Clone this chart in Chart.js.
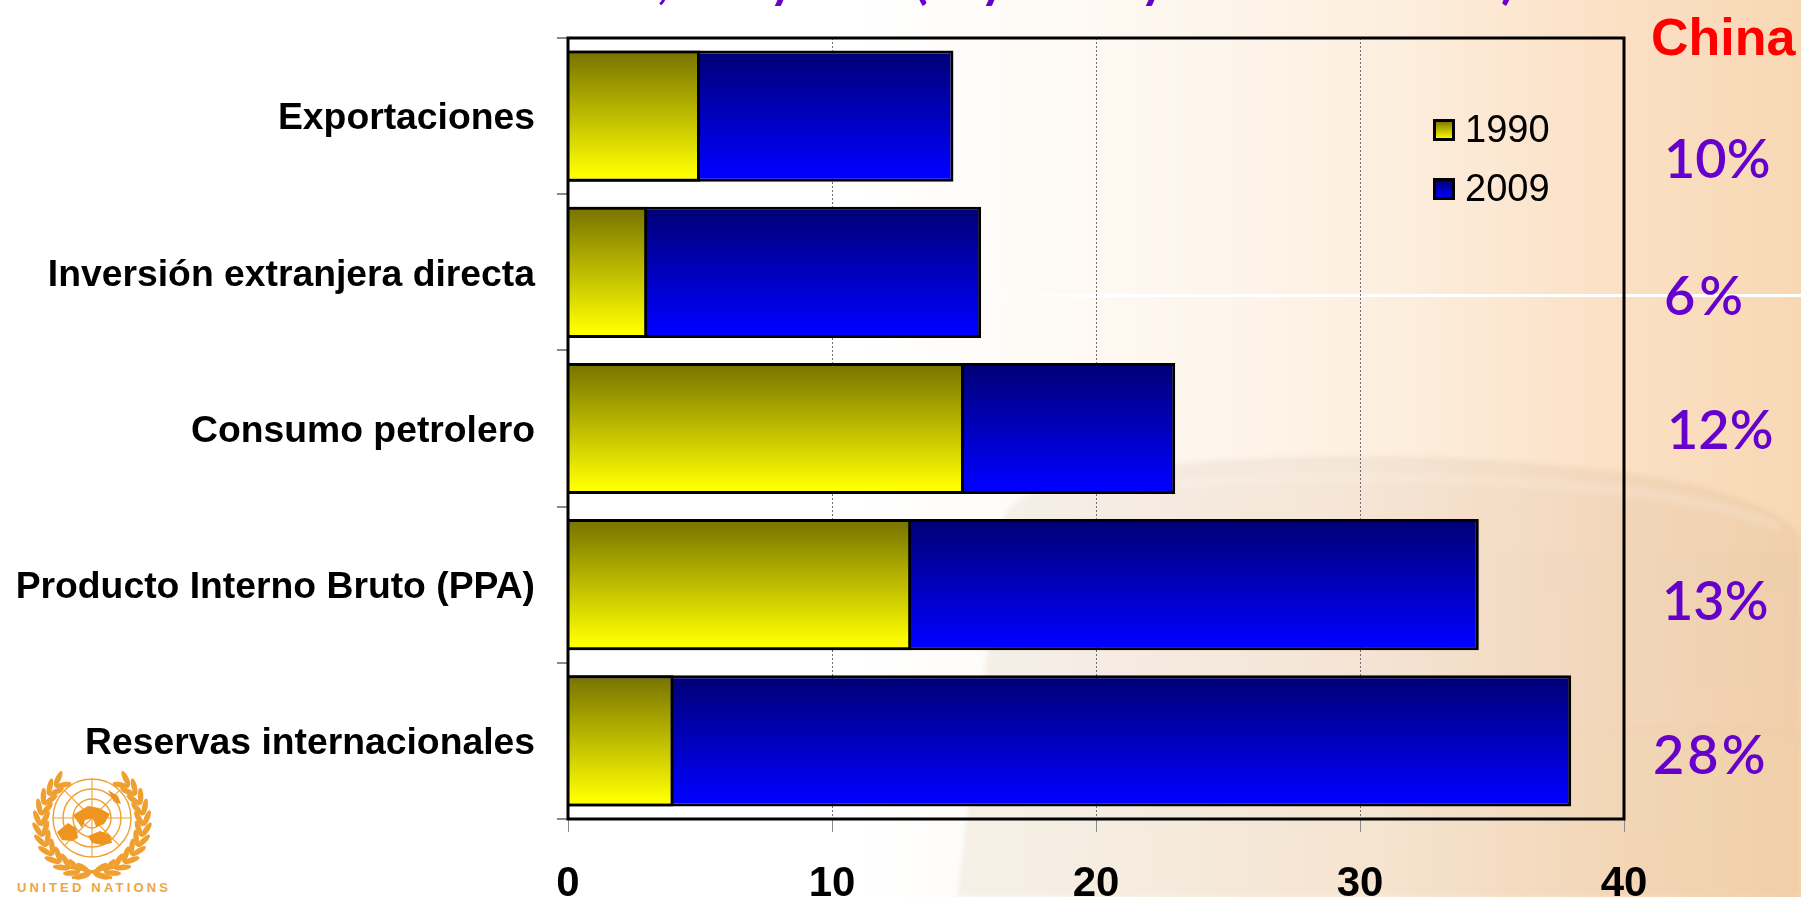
<!DOCTYPE html>
<html lang="es">
<head>
<meta charset="utf-8">
<title>China</title>
<script src="https://cdn.jsdelivr.net/npm/chart.js@4"></script>
<style>
    html, body { margin: 0; padding: 0; }
    body {
        position: relative;
        width: 1801px;
        height: 897px;
        overflow: hidden;
        background: linear-gradient(90deg, #ffffff 0, #ffffff 860px, #fef9f3 1100px, #fdefe0 1380px, #fbe0c4 1620px, #f8d8b4 1801px);
        font-family: "Liberation Sans", Arial, sans-serif;
    }
    #backdrop, #logo { position: absolute; left: 0; top: 0; }
    #chart { position: absolute; left: 0; top: 0; }
    .china {
        position: absolute;
        left: 1651px;
        top: 7px;
        font: bold 52px/60px "Liberation Sans", Arial, sans-serif;
        color: #ff0000;
    }
    .share {
        position: absolute;
        font: 600 54px/60px Lato, sans-serif;
        color: #6600cc;
        transform: translateY(-50%);
    }
    /* solo se ven los rabos de las letras del titulo, cortado por arriba */
    .tail {
        position: absolute;
        top: -51px;
        font: bold 50px/60px Lato, sans-serif;
        color: #6600cc;
    }
</style>
</head>
<body>
<svg id="backdrop" width="1801" height="897">
    <defs>
        <linearGradient id="domeFill" x1="0" y1="0" x2="0" y2="1">
            <stop offset="0" stop-color="#9a7a50" stop-opacity="0.09"/>
            <stop offset="1" stop-color="#a87a40" stop-opacity="0.10"/>
        </linearGradient>
        <linearGradient id="lineFade" x1="0" y1="0" x2="1" y2="0">
            <stop offset="0" stop-color="#ffffff" stop-opacity="0"/>
            <stop offset="0.15" stop-color="#ffffff"/>
            <stop offset="1" stop-color="#ffffff"/>
        </linearGradient>
        <filter id="soft"><feGaussianBlur stdDeviation="2"/></filter>
    </defs>
    <path d="M957,897 L1003,520 Q1010,490 1100,472 Q1360,440 1620,472 Q1760,490 1801,535 L1801,897 Z"
          fill="url(#domeFill)" filter="url(#soft)"/>
    <path d="M1180,484 Q1360,468 1600,488 Q1720,500 1780,528" fill="none" stroke="#ffffff"
          stroke-opacity="0.13" stroke-width="11" filter="url(#soft)"/>
    <rect x="960" y="294" width="841" height="3" fill="url(#lineFade)"/>
</svg>
<svg id="logo" width="200" height="897"></svg>
<canvas id="chart" width="1801" height="897"></canvas>
<div class="china">China</div>
<script>
    // Datos
    const categories = [
        'Exportaciones',
        'Inversión extranjera directa',
        'Consumo petrolero',
        'Producto Interno Bruto (PPA)',
        'Reservas internacionales'
    ];
    const seriesNames = ['1990', '2009'];
    const values1990 = [5, 3, 15, 13, 4];
    const values2009 = [14.6, 15.65, 23, 34.5, 38];
    const chinaShares = ['10%', '6%', '12%', '13%', '28%'];
    const xTicks = [0, 10, 20, 30, 40];

    // Colocacion de los textos de la derecha
    const shareLeft = [1664, 1664, 1667, 1662, 1653];
    const shareMiddle = [158, 295, 429, 600, 754];
    const shareSpacing = [0, 4, 0, 0, 3];

    // Fragmentos visibles del titulo cortado
    const titleTails = [',', 'y', '(', 'y', 'y', ')'];
    const titleTailLeft = [657, 769, 914, 980, 1140, 1501];

    const barShare = 0.84;

    const topGradient = {
        '1990': ['#7a7600', '#ffff00'],
        '2009': ['#000078', '#0000ff']
    };

    const barFill = (name) => (ctx) => {
        const chart = ctx.chart;
        const y = chart.scales.y;
        if (ctx.type !== 'data' || !chart.chartArea || !y) return topGradient[name][1];
        const center = y.getPixelForValue(ctx.dataIndex);
        const half = (chart.chartArea.height / categories.length) * barShare / 2;
        const g = chart.ctx.createLinearGradient(0, center - half, 0, center + half);
        g.addColorStop(0.03, topGradient[name][0]);
        g.addColorStop(0.95, topGradient[name][1]);
        return g;
    };

    // Cuadrito de la leyenda con el mismo degradado
    const legendSwatch = (name) => {
        const c = document.createElement('canvas');
        c.width = 22;
        c.height = 26; // 4 de aire abajo para subirlo respecto al texto
        const x = c.getContext('2d');
        const g = x.createLinearGradient(0, 2, 0, 20);
        g.addColorStop(0, topGradient[name][0]);
        g.addColorStop(1, topGradient[name][1]);
        x.fillStyle = g;
        x.fillRect(0, 0, 22, 22);
        x.strokeStyle = '#000000';
        x.lineWidth = 3;
        x.strokeRect(1.5, 1.5, 19, 19);
        return c;
    };

    const frame = {
        id: 'frame',
        beforeDraw(chart) {
            // leyenda dentro del area, en su sitio
            chart.legend.left = 1421;
            chart.legend.top = 92;
        },
        afterDatasetsDraw(chart) {
            const a = chart.chartArea;
            const c = chart.ctx;
            c.save();
            c.strokeStyle = '#000000';
            c.lineWidth = 3;
            c.strokeRect(a.left, a.top, a.width, a.height);
            c.restore();
        }
    };

    new Chart(document.getElementById('chart'), {
        type: 'bar',
        data: {
            labels: categories,
            datasets: [
                {
                    label: seriesNames[0],
                    data: values1990,
                    backgroundColor: barFill('1990'),
                    borderColor: '#000000',
                    borderWidth: 3,
                    barPercentage: barShare,
                    categoryPercentage: 1
                },
                {
                    label: seriesNames[1],
                    data: values2009,
                    backgroundColor: barFill('2009'),
                    borderColor: '#000000',
                    borderWidth: 3,
                    barPercentage: barShare,
                    categoryPercentage: 1
                }
            ]
        },
        options: {
            indexAxis: 'y',
            responsive: false,
            animation: false,
            layout: { padding: { top: 38, right: 177, left: 0, bottom: 0 } },
            scales: {
                x: {
                    type: 'linear',
                    min: xTicks[0],
                    max: xTicks[xTicks.length - 1],
                    stacked: false,
                    afterBuildTicks: (scale) => {
                        scale.ticks = xTicks.map(v => ({ value: v }));
                    },
                    afterFit: (scale) => {
                        scale.height = 78;
                        scale.paddingLeft = 0;
                        scale.paddingRight = 0;
                    },
                    border: { display: false, dash: [2, 2] },
                    grid: {
                        color: '#6e6e6e',
                        lineWidth: 1,
                        tickLength: 13,
                        tickColor: '#8a8a8a',
                        tickBorderDash: []
                    },
                    ticks: {
                        color: '#000000',
                        padding: 27,
                        maxRotation: 0,
                        font: { family: '"Liberation Sans"', size: 42, weight: 'bold' }
                    }
                },
                y: {
                    stacked: true, // misma fila, 1990 encima de 2009
                    afterFit: (scale) => {
                        scale.width = 568;
                        scale.paddingTop = 0;
                        scale.paddingBottom = 0;
                    },
                    border: { display: false },
                    grid: {
                        drawOnChartArea: false,
                        tickLength: 11,
                        tickColor: '#8a8a8a',
                        lineWidth: 2
                    },
                    ticks: {
                        color: '#000000',
                        padding: 22,
                        labelOffset: 3,
                        autoSkip: false,
                        font: { family: '"Liberation Sans"', size: 37.3, weight: 'bold' }
                    }
                }
            },
            plugins: {
                title: { display: false },
                tooltip: { enabled: false },
                legend: {
                    position: 'chartArea',
                    align: 'start',
                    labels: {
                        color: '#000000',
                        font: { family: '"Liberation Sans"', size: 38 },
                        padding: 21,
                        usePointStyle: true,
                        pointStyleWidth: 4,
                        generateLabels: () => seriesNames.map(name => ({
                            text: name,
                            pointStyle: legendSwatch(name),
                            fontColor: '#000000',
                            lineWidth: 0
                        }))
                    }
                }
            }
        },
        plugins: [frame]
    });

    // Porcentajes de China y restos del titulo
    chinaShares.forEach((text, i) => {
        const el = document.createElement('div');
        el.className = 'share';
        el.textContent = text;
        el.style.left = shareLeft[i] + 'px';
        el.style.top = shareMiddle[i] + 'px';
        el.style.letterSpacing = shareSpacing[i] + 'px';
        document.body.appendChild(el);
    });

    titleTails.forEach((text, i) => {
        const el = document.createElement('div');
        el.className = 'tail';
        el.textContent = text;
        el.style.left = titleTailLeft[i] + 'px';
        document.body.appendChild(el);
    });

    // Emblema de Naciones Unidas, dibujo aproximado
    const drawLogo = () => {
        const svg = document.getElementById('logo');
        const orange = '#f0a030';
        const ns = 'http://www.w3.org/2000/svg';
        const cx = 92;
        const cy = 818;
        const add = (tag, attrs, text) => {
            const el = document.createElementNS(ns, tag);
            Object.keys(attrs).forEach(k => el.setAttribute(k, attrs[k]));
            if (text) el.textContent = text;
            svg.appendChild(el);
        };
        [39, 29, 19, 10].forEach(r => {
            add('circle', { cx, cy, r, fill: 'none', stroke: orange, 'stroke-width': 1.4 });
        });
        for (let a = 0; a < 8; a++) {
            const t = a * Math.PI / 4;
            add('line', {
                x1: cx, y1: cy,
                x2: cx + 39 * Math.cos(t), y2: cy + 39 * Math.sin(t),
                stroke: orange, 'stroke-width': 1.1
            });
        }
        // continentes
        ['M73,815 L88,806 L99,808 L110,814 L104,824 L96,827 L93,818 L85,820 L82,828 Z',
         'M57,832 L68,823 L76,828 L78,838 L72,841 L62,840 Z',
         'M88,836 L100,831 L110,835 L112,843 L102,845 L92,843 Z',
         'M108,790 L118,796 L121,804 L114,802 Z'].forEach(d => {
            add('path', { d, fill: '#ee9420' });
        });
        // laurel a los dos lados, dos filas de hojas
        [-1, 1].forEach(side => {
            [[55, 26], [47, -26]].forEach(([r, tilt]) => {
                for (let i = 0; i < 12; i++) {
                    const t = (-52 + i * 12) * Math.PI / 180;
                    const x = cx + side * r * Math.cos(t);
                    const y = cy + 4 + r * Math.sin(t);
                    add('ellipse', {
                        cx: x, cy: y, rx: 2.8, ry: 8.5, fill: orange,
                        transform: `rotate(${side * (t * 180 / Math.PI + tilt)} ${x} ${y})`
                    });
                }
            });
        });
        add('path', { d: 'M60,866 Q92,870 112,878 M124,866 Q92,870 72,878', fill: 'none', stroke: orange, 'stroke-width': 3 });
        add('text', {
            x: 17, y: 892, fill: '#eda640',
            'font-family': 'Liberation Sans', 'font-size': 13, 'font-weight': 'bold',
            textLength: 151, lengthAdjust: 'spacing'
        }, 'UNITED NATIONS');
    };
    drawLogo();
</script>
</body>
</html>
